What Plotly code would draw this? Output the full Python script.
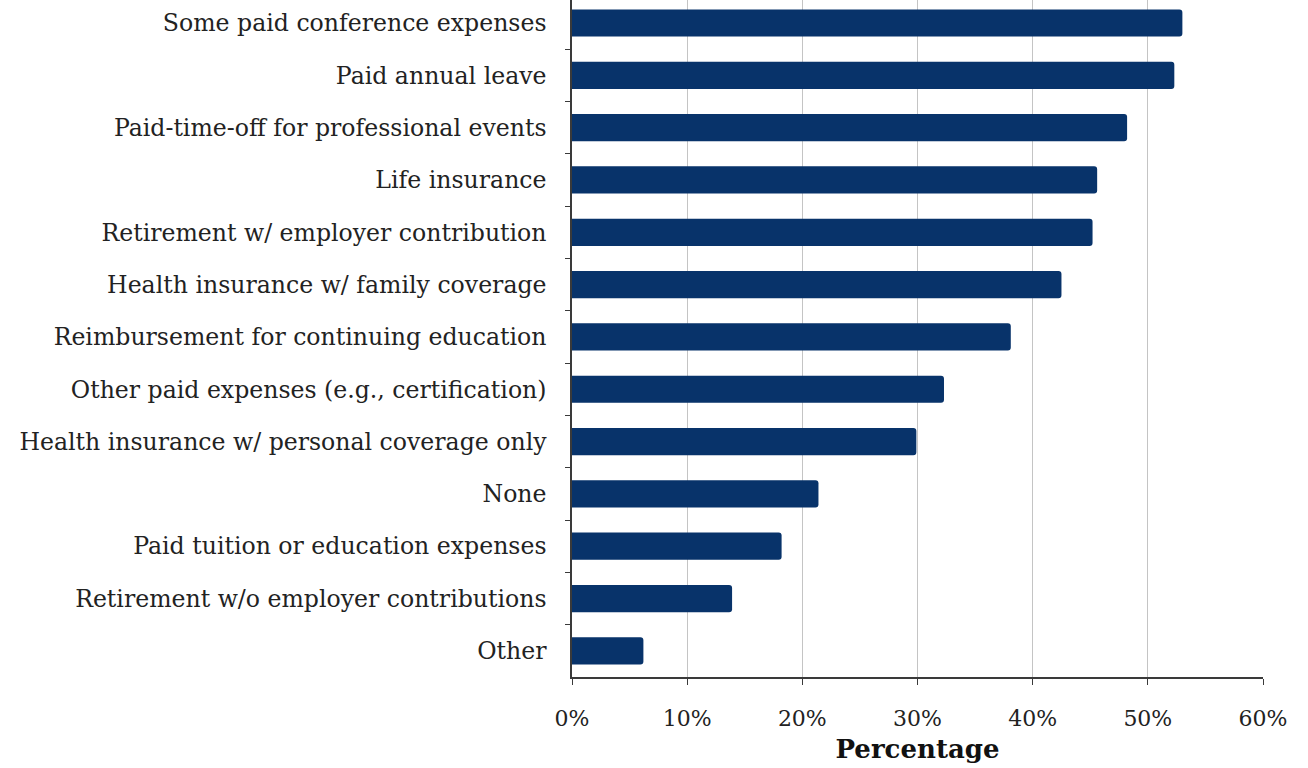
import plotly.graph_objects as go

# Benefits listed top to bottom, with share of respondents (%)
benefits = [
    "Some paid conference expenses",
    "Paid annual leave",
    "Paid-time-off for professional events",
    "Life insurance",
    "Retirement w/ employer contribution",
    "Health insurance w/ family coverage",
    "Reimbursement for continuing education",
    "Other paid expenses (e.g., certification)",
    "Health insurance w/ personal coverage only",
    "None",
    "Paid tuition or education expenses",
    "Retirement w/o employer contributions",
    "Other",
]
percentages = [53.0, 52.3, 48.2, 45.6, 45.2, 42.5, 38.1, 32.3, 29.9, 21.4, 18.2, 13.9, 6.2]
x_ticks = [0, 10, 20, 30, 40, 50, 60]
x_tick_labels = [f"{v}%" for v in x_ticks]

FONT = "DejaVu Serif"
TEXT = "#222222"
AXIS = "#3a3a3a"

fig = go.Figure(
    go.Bar(
        x=percentages,
        y=benefits,
        orientation="h",
        marker=dict(color="#08336a", line=dict(width=0)),
        hoverinfo="x+y",
    )
)

fig.update_layout(
    width=1308,
    height=768,
    margin=dict(l=572, r=45, t=0, b=91),
    paper_bgcolor="white",
    plot_bgcolor="white",
    bargap=0.48,
    barcornerradius=3,
    showlegend=False,
    font=dict(family=FONT, color=TEXT, size=22),
)

fig.update_xaxes(
    range=[0, 60],
    tickvals=x_ticks,
    ticktext=x_tick_labels,
    showgrid=True,
    gridcolor="#c4c4c4",
    gridwidth=1,
    zeroline=False,
    showline=True,
    linecolor=AXIS,
    linewidth=1.5,
    ticks="outside",
    ticklen=6,
    tickcolor=AXIS,
    tickfont=dict(family=FONT, size=22, color=TEXT),
    ticklabelstandoff=15,
    title=dict(
        text="<b>Percentage</b>",
        font=dict(family=FONT, size=26, color="#111111"),
        standoff=10,
    ),
)

fig.update_yaxes(
    type="category",
    categoryorder="array",
    categoryarray=benefits,
    range=[12.5, -0.44],
    showgrid=False,
    zeroline=False,
    showline=True,
    linecolor=AXIS,
    linewidth=1.5,
    ticks="outside",
    tickson="boundaries",
    ticklen=5,
    tickcolor=AXIS,
    tickfont=dict(family=FONT, size=23.6, color=TEXT),
    ticklabelstandoff=19,
)

fig.write_html("out.html")
